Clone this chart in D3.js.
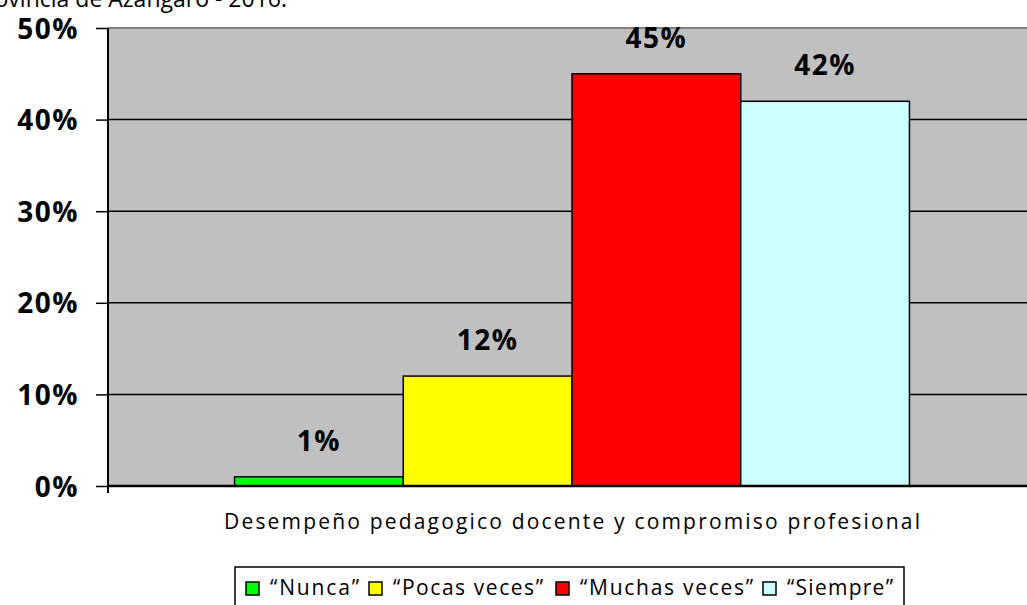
<!DOCTYPE html>
<html><head><meta charset="utf-8">
<script src="https://cdn.jsdelivr.net/npm/d3@7/dist/d3.min.js"></script>
<style>html,body{margin:0;padding:0;background:#fff;overflow:hidden}</style>
</head><body>
<script>
const categories = ["Desempeño pedagogico docente y compromiso profesional"];
const seriesNames = ["“Nunca”", "“Pocas veces”", "“Muchas veces”", "“Siempre”"];
const seriesValues = [0.01, 0.12, 0.45, 0.42];
const seriesColors = ["#00ff00", "#ffff00", "#ff0000", "#ccffff"];
const yTicks = [0, 0.1, 0.2, 0.3, 0.4, 0.5];
const titleText = "Provincia de Azángaro - 2016.";

const W = 1027, H = 605;
const svg = d3.select("body").append("svg").attr("width", W).attr("height", H);
const font = "'Open Sans', sans-serif";

const plotL = 108, plotR = 1036, plotT = 28, plotB = 486;
const y = d3.scaleLinear().domain([0, 0.5]).range([plotB, plotT]);
const x0 = d3.scaleBand().domain(categories).range([plotL, plotR]).paddingInner(0).paddingOuter(0.1875);
const x1 = d3.scaleBand().domain(seriesNames).range([0, x0.bandwidth()]).padding(0);

// title (partially cut off, as in the reference)
svg.append("text").attr("x", 287).attr("y", 7).attr("text-anchor", "end")
  .attr("font-family", font).attr("font-size", 23).attr("fill", "#000").text(titleText);

// plot background
svg.append("rect").attr("x", plotL).attr("y", plotT).attr("width", plotR - plotL).attr("height", plotB - plotT)
  .attr("fill", "#c0c0c0");
svg.append("line").attr("x1", plotL).attr("x2", plotR).attr("y1", plotT).attr("y2", plotT)
  .attr("stroke", "#808080").attr("stroke-width", 2);

// gridlines
svg.append("g").selectAll("line").data(yTicks.filter(d => d > 0 && d < 0.5)).join("line")
  .attr("x1", plotL).attr("x2", plotR).attr("y1", d => y(d)).attr("y2", d => y(d))
  .attr("stroke", "#000").attr("stroke-width", 1.5);

// bars
const g = svg.append("g").attr("transform", `translate(${x0(categories[0])},0)`);
g.selectAll("rect").data(seriesValues).join("rect")
  .attr("x", (d, i) => x1(seriesNames[i]))
  .attr("y", d => y(d))
  .attr("width", x1.bandwidth())
  .attr("height", d => plotB - y(d))
  .attr("fill", (d, i) => seriesColors[i])
  .attr("stroke", "#000").attr("stroke-width", 1.5);

// data labels
g.selectAll("text").data(seriesValues).join("text")
  .attr("x", (d, i) => x1(seriesNames[i]) + x1.bandwidth() / 2)
  .attr("y", d => y(d) - 26)
  .attr("text-anchor", "middle").attr("font-family", font).attr("font-weight", "bold")
  .attr("font-size", 28).attr("letter-spacing", 1.5).attr("fill", "#000")
  .text(d => d3.format(".0%")(d));

// y axis
const yAxis = d3.axisLeft(y).tickValues(yTicks).tickFormat(d3.format(".0%")).tickSize(12).tickPadding(17);
const ya = svg.append("g").attr("transform", `translate(${plotL},0)`).call(yAxis);
ya.select(".domain").attr("stroke", "#000").attr("stroke-width", 2).attr("d", `M0,${plotT}V${plotB + 7}`);
ya.selectAll(".tick line").attr("stroke", "#000").attr("stroke-width", 1.5);
ya.selectAll(".tick text").attr("font-family", font).attr("font-weight", "bold")
  .attr("font-size", 28).attr("letter-spacing", 1.5).attr("fill", "#000").attr("dy", "0.36em");

// x axis baseline
svg.append("line").attr("x1", plotL).attr("x2", plotR).attr("y1", plotB).attr("y2", plotB)
  .attr("stroke", "#000").attr("stroke-width", 2.5);

// x category label
svg.append("text").attr("x", x0(categories[0]) + x0.bandwidth() / 2).attr("y", 529)
  .attr("text-anchor", "middle").attr("font-family", font).attr("font-size", 21)
  .attr("textLength", 696).attr("lengthAdjust", "spacing")
  .attr("fill", "#000").text(categories[0]);

// legend
const legendSquareX = [246, 369, 556, 763];
const legendTextWidth = [89, 150, 173, 106];
const lg = svg.append("g");
lg.append("rect").attr("x", 235).attr("y", 567).attr("width", 669).attr("height", 60)
  .attr("fill", "#fff").attr("stroke", "#000").attr("stroke-width", 1.5);
seriesNames.forEach((n, i) => {
  const lx = legendSquareX[i];
  lg.append("rect").attr("x", lx).attr("y", 582).attr("width", 13).attr("height", 13)
    .attr("fill", seriesColors[i]).attr("stroke", "#000").attr("stroke-width", 1.5);
  lg.append("text").attr("x", lx + 24).attr("y", 595).attr("font-family", font)
    .attr("font-size", 21).attr("textLength", legendTextWidth[i]).attr("lengthAdjust", "spacing")
    .attr("fill", "#000").text(n);
});
</script>
</body></html>
